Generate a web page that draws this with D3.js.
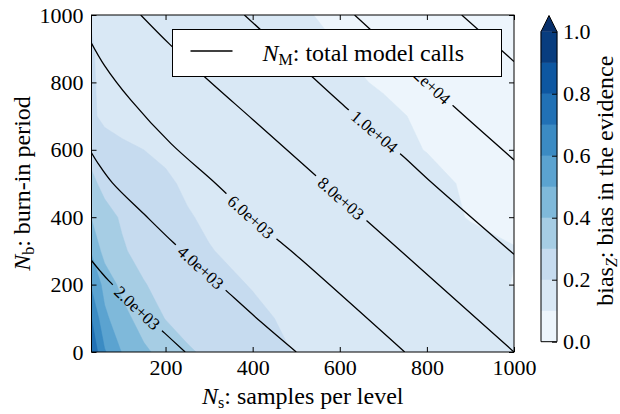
<!DOCTYPE html>
<html>
<head>
<meta charset="utf-8">
<script src="https://cdnjs.cloudflare.com/ajax/libs/d3/7.8.5/d3.min.js"></script>
<style>
    body { margin: 0; background: #fff; }
</style>
</head>
<body>
<div id="chart-area"></div>
<script>
// grid on which the bias was estimated
var nsValues = [30, 60, 100, 150, 200, 250, 300, 400, 500, 600, 700, 800, 900, 1000];
var nbValues = [0, 100, 200, 300, 400, 500, 600, 700, 800, 900, 1000];

// bias in the evidence, one row per Nb value
var biasRows = [
    [0.78, 0.61, 0.495, 0.42, 0.36, 0.31, 0.285, 0.24, 0.195, 0.17, 0.155, 0.145, 0.14, 0.13],
    [0.70, 0.52, 0.44, 0.35, 0.297, 0.27, 0.25, 0.22, 0.18, 0.165, 0.15, 0.14, 0.13, 0.12],
    [0.585, 0.47, 0.37, 0.305, 0.27, 0.245, 0.23, 0.195, 0.175, 0.16, 0.145, 0.13, 0.12, 0.098],
    [0.49, 0.36, 0.31, 0.27, 0.245, 0.225, 0.203, 0.18, 0.165, 0.15, 0.135, 0.125, 0.112, 0.102],
    [0.395, 0.33, 0.29, 0.25, 0.225, 0.205, 0.19, 0.165, 0.15, 0.135, 0.125, 0.113, 0.098, 0.09],
    [0.32, 0.275, 0.25, 0.23, 0.21, 0.19, 0.178, 0.16, 0.145, 0.133, 0.122, 0.11, 0.095, 0.088],
    [0.27, 0.22, 0.21, 0.2, 0.188, 0.175, 0.165, 0.15, 0.135, 0.123, 0.11, 0.099, 0.09, 0.085],
    [0.207, 0.19, 0.18, 0.175, 0.165, 0.155, 0.148, 0.135, 0.125, 0.115, 0.106, 0.095, 0.088, 0.082],
    [0.207, 0.185, 0.175, 0.165, 0.155, 0.145, 0.138, 0.125, 0.115, 0.106, 0.097, 0.09, 0.085, 0.08],
    [0.205, 0.182, 0.17, 0.16, 0.15, 0.14, 0.132, 0.12, 0.108, 0.1, 0.093, 0.087, 0.082, 0.078],
    [0.195, 0.178, 0.165, 0.155, 0.145, 0.136, 0.128, 0.115, 0.102, 0.097, 0.09, 0.085, 0.08, 0.076]
];

var biasLevels = [0, 0.1, 0.2, 0.3, 0.4, 0.5, 0.6, 0.7, 0.8, 0.9, 1.0];
var bluesColors = ["#f7fbff", "#deebf7", "#c6dbef", "#9ecae1", "#6baed6",
                   "#4292c6", "#2171b5", "#08519c", "#08306b"];

var callLevels = [2000, 4000, 6000, 8000, 10000, 12000, 14000];
var callLines = [
    [[26, 278], [50, 240], [70, 211], [135, 131], [198, 56], [245, 0]],
    [[26, 600], [45, 560], [78, 502], [150, 410], [216, 327], [281, 251], [346, 174], [420, 88], [500, 0]],
    [[26, 926], [60, 850], [120, 748], [212, 619], [315, 500], [396, 401], [463, 327], [508, 278], [749, 0]],
    [[143, 1000], [208, 915], [285, 822], [400, 690], [515, 558], [603, 456], [673, 377], [1000, 0]],
    [[381, 1000], [500, 860], [612, 728], [680, 654], [746, 580], [803, 512], [1000, 290]],
    [[634, 1000], [720, 898], [802, 800], [864, 726], [1000, 570]],
    [[880, 1000], [1000, 862]]
];
// Ns where each contour carries its label
var labelNs = [135, 281, 396, 603, 680, 802, null];

var xTicks = [200, 400, 600, 800, 1000];
var yTicks = [0, 200, 400, 600, 800, 1000];
var cbarTicks = [0, 0.2, 0.4, 0.6, 0.8, 1.0];

var serif = "'Liberation Serif', 'Times New Roman', 'DejaVu Serif', serif";

var margin = {top: 15, left: 91.5},
    width = 422.5,
    height = 337;

var svg = d3.select("#chart-area").append("svg")
    .attr("width", 620)
    .attr("height", 414)
    .style("font-family", serif);

var defs = svg.append("defs");

var g = svg.append("g")
    .attr("transform", "translate(" + margin.left + "," + margin.top + ")");

// set the ranges
var x = d3.scaleLinear().domain([30, 1000]).range([0, width]);
var y = d3.scaleLinear().domain([0, 1000]).range([height, 0]);

// matplotlib "Blues": straight interpolation between the nine brewer colours
var blues = d3.scaleLinear()
    .domain(d3.range(bluesColors.length).map(function(i) { return i / (bluesColors.length - 1); }))
    .range(bluesColors);

function bandColor(i) {
    if (i < biasLevels.length - 1) return blues((biasLevels[i] + biasLevels[i + 1]) / 2);
    return blues(1);
}

defs.append("clipPath").attr("id", "plot-clip")
    .append("rect").attr("width", width).attr("height", height);

// filled contours of the bias
var contours = d3.contours()
    .size([nsValues.length, nbValues.length])
    .thresholds(biasLevels)(d3.merge(biasRows));

var nsAt = d3.scaleLinear().domain(d3.range(nsValues.length)).range(nsValues).clamp(true);
var nbAt = d3.scaleLinear().domain(d3.range(nbValues.length)).range(nbValues).clamp(true);

var gridPath = d3.geoPath(d3.geoTransform({
    point: function(px, py) {
        this.stream.point(x(nsAt(px - 0.5)), y(nbAt(py - 0.5)));
    }
}));

var plot = g.append("g").attr("clip-path", "url(#plot-clip)");

plot.selectAll("path.band")
    .data(contours)
    .enter().append("path")
    .attr("class", "band")
    .attr("d", gridPath)
    .attr("fill", function(d, i) { return bandColor(i); })
    .attr("stroke", function(d, i) { return bandColor(i); })
    .attr("stroke-width", 0.5);

// contour lines of N_M
var line = d3.line()
    .x(function(d) { return x(d[0]); })
    .y(function(d) { return y(d[1]); })
    .curve(d3.curveCatmullRom);

function nbOnLine(pts, ns) {
    for (var i = 1; i < pts.length; i++) {
        if (ns <= pts[i][0]) {
            var t = (ns - pts[i - 1][0]) / (pts[i][0] - pts[i - 1][0]);
            return pts[i - 1][1] + t * (pts[i][1] - pts[i - 1][1]);
        }
    }
    return pts[pts.length - 1][1];
}

function sciLabel(v) {
    return d3.format(".1e")(v).replace(/e([+-])(\d)$/, "e$10$2");
}

var mask = defs.append("mask").attr("id", "label-gaps")
    .attr("maskUnits", "userSpaceOnUse")
    .attr("x", -100).attr("y", -100).attr("width", 800).attr("height", 600);
mask.append("rect")
    .attr("x", -100).attr("y", -100).attr("width", 800).attr("height", 600)
    .attr("fill", "#fff");

plot.append("g")
    .attr("mask", "url(#label-gaps)")
    .selectAll("path.calls")
    .data(callLines)
    .enter().append("path")
    .attr("class", "calls")
    .attr("d", line)
    .attr("fill", "none")
    .attr("stroke", "#000")
    .attr("stroke-width", 1.3);

var labels = plot.append("g");
callLevels.forEach(function(level, i) {
    var ns = labelNs[i];
    if (ns === null) return;
    var pts = callLines[i];
    var cx = x(ns), cy = y(nbOnLine(pts, ns));
    var dx = x(ns + 20) - x(ns - 20),
        dy = y(nbOnLine(pts, ns + 20)) - y(nbOnLine(pts, ns - 20));
    var angle = Math.atan2(dy, dx) * 180 / Math.PI;
    var tr = "translate(" + cx + "," + cy + ") rotate(" + angle + ")";

    var txt = labels.append("text")
        .attr("transform", tr)
        .attr("text-anchor", "middle")
        .attr("dy", "0.35em")
        .style("font-family", serif)
        .attr("font-size", 17)
        .text(sciLabel(level));
    var len = txt.node().getComputedTextLength();

    mask.append("rect")
        .attr("transform", tr)
        .attr("x", -len / 2 - 6)
        .attr("y", -8)
        .attr("width", len + 12)
        .attr("height", 16)
        .attr("fill", "#000");
});

// ticks on all four sides, pointing in
function styleAxis(a) {
    a.select(".domain").remove();
    a.attr("font-family", null).attr("font-size", 22);
    a.selectAll("text").style("font-family", serif);
}

g.append("g")
    .attr("transform", "translate(0," + height + ")")
    .call(d3.axisBottom(x).tickValues(xTicks).tickSize(-5).tickPadding(7.5).tickFormat(d3.format("d")))
    .call(styleAxis);

g.append("g")
    .call(d3.axisTop(x).tickValues(xTicks).tickSize(-5).tickFormat(""))
    .call(styleAxis);

g.append("g")
    .call(d3.axisLeft(y).tickValues(yTicks).tickSize(-5).tickPadding(8).tickFormat(d3.format("d")))
    .call(styleAxis);

g.append("g")
    .attr("transform", "translate(" + width + ",0)")
    .call(d3.axisRight(y).tickValues(yTicks).tickSize(-5).tickFormat(""))
    .call(styleAxis);

g.append("rect")
    .attr("width", width)
    .attr("height", height)
    .attr("fill", "none")
    .attr("stroke", "#000")
    .attr("stroke-width", 1);

// legend
var legW = 329, legH = 47;
var legend = g.append("g")
    .attr("transform", "translate(" + (width - 12.5 - legW) + ",14.5)");
legend.append("rect")
    .attr("width", legW)
    .attr("height", legH)
    .attr("fill", "#fff")
    .attr("stroke", "#000")
    .attr("stroke-width", 1);
legend.append("line")
    .attr("x1", 18).attr("x2", 60)
    .attr("y1", 21.5).attr("y2", 21.5)
    .attr("stroke", "#000")
    .attr("stroke-width", 1.5);
var legText = legend.append("text")
    .attr("x", 90)
    .attr("y", 31)
    .style("font-family", serif)
    .attr("font-size", 24);
legText.append("tspan").attr("font-style", "italic").text("N");
legText.append("tspan").attr("font-size", 16).attr("dy", 4).text("M");
legText.append("tspan").attr("dy", -4).text(": total model calls");

// axis titles
var xTitle = svg.append("text")
    .attr("x", margin.left + width / 2)
    .attr("y", 404)
    .attr("text-anchor", "middle")
    .style("font-family", serif)
    .attr("font-size", 24);
xTitle.append("tspan").attr("font-style", "italic").text("N");
xTitle.append("tspan").attr("font-size", 16).attr("dy", 4).text("s");
xTitle.append("tspan").attr("dy", -4).text(": samples per level");

var yTitle = svg.append("text")
    .attr("transform", "translate(30," + (margin.top + height / 2) + ") rotate(-90)")
    .attr("text-anchor", "middle")
    .style("font-family", serif)
    .attr("font-size", 24);
yTitle.append("tspan").attr("font-style", "italic").text("N");
yTitle.append("tspan").attr("font-size", 16).attr("dy", 4).text("b");
yTitle.append("tspan").attr("dy", -4).text(": burn-in period");

// colour bar
var cb = {left: 541, width: 16, top: 31.7, bottom: 341.7, tip: 15.5};
var yc = d3.scaleLinear().domain([0, 1]).range([cb.bottom, cb.top]);

var cbar = svg.append("g");
cbar.selectAll("rect.level")
    .data(d3.range(biasLevels.length - 1))
    .enter().append("rect")
    .attr("class", "level")
    .attr("x", cb.left)
    .attr("width", cb.width)
    .attr("y", function(i) { return yc(biasLevels[i + 1]); })
    .attr("height", function(i) { return yc(biasLevels[i]) - yc(biasLevels[i + 1]); })
    .attr("fill", function(i) { return bandColor(i); })
    .attr("stroke", function(i) { return bandColor(i); })
    .attr("stroke-width", 0.5);

cbar.append("path")
    .attr("d", "M" + cb.left + "," + yc(1) + "L" + (cb.left + cb.width) + "," + yc(1) +
        "L" + (cb.left + cb.width / 2) + "," + cb.tip + "Z")
    .attr("fill", bandColor(biasLevels.length - 1));

cbar.append("path")
    .attr("d", "M" + cb.left + "," + cb.bottom + "L" + cb.left + "," + yc(1) +
        "L" + (cb.left + cb.width / 2) + "," + cb.tip +
        "L" + (cb.left + cb.width) + "," + yc(1) +
        "L" + (cb.left + cb.width) + "," + cb.bottom + "Z")
    .attr("fill", "none")
    .attr("stroke", "#000")
    .attr("stroke-width", 1);

cbar.append("g")
    .attr("transform", "translate(" + (cb.left + cb.width) + ",0)")
    .call(d3.axisRight(yc).tickValues(cbarTicks).tickSize(-5).tickPadding(6).tickFormat(d3.format(".1f")))
    .call(styleAxis);

var cTitle = svg.append("text")
    .attr("transform", "translate(613," + ((cb.top + cb.bottom) / 2 - 6) + ") rotate(-90)")
    .attr("text-anchor", "middle")
    .style("font-family", serif)
    .attr("font-size", 24);
cTitle.append("tspan").text("bias");
cTitle.append("tspan").attr("font-size", 16).attr("font-style", "italic").attr("dy", 4).text("Z");
cTitle.append("tspan").attr("dy", -4).text(": bias in the evidence");
</script>
</body>
</html>
